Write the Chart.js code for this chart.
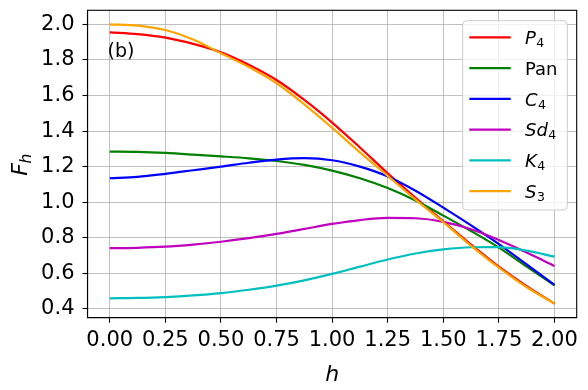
<!DOCTYPE html>
<html><head><meta charset="utf-8">
<script src="https://cdn.jsdelivr.net/npm/chart.js@4/dist/chart.umd.min.js"></script>
<style>html,body{margin:0;padding:0;background:#fff;overflow:hidden}#wrap{width:588px;height:390px;position:relative}</style>
</head><body><div id="wrap"><canvas id="c" width="588" height="390"></canvas></div>
<script>
// ---- data ----
const hValues = [0, 0.125, 0.25, 0.375, 0.5, 0.625, 0.75, 0.875, 1, 1.125, 1.25, 1.375, 1.5, 1.625, 1.75, 1.875, 2];
const P4  = [1.955, 1.945, 1.925, 1.89, 1.843, 1.773, 1.687, 1.575, 1.448, 1.308, 1.163, 1.025, 0.893, 0.762, 0.638, 0.528, 0.43];
const Pan = [1.285, 1.283, 1.277, 1.268, 1.258, 1.247, 1.232, 1.21, 1.178, 1.135, 1.08, 1.01, 0.925, 0.838, 0.745, 0.638, 0.533];
const C4  = [1.135, 1.143, 1.16, 1.18, 1.2, 1.222, 1.24, 1.248, 1.236, 1.2, 1.145, 1.065, 0.97, 0.87, 0.765, 0.65, 0.535];
const Sd4 = [0.742, 0.744, 0.75, 0.762, 0.778, 0.798, 0.822, 0.85, 0.878, 0.9, 0.912, 0.91, 0.89, 0.848, 0.788, 0.717, 0.642];
const K4  = [0.46, 0.462, 0.467, 0.476, 0.489, 0.508, 0.531, 0.561, 0.597, 0.638, 0.678, 0.712, 0.735, 0.747, 0.748, 0.728, 0.694];
const S3  = [2.0, 1.993, 1.968, 1.915, 1.837, 1.76, 1.669, 1.55, 1.418, 1.28, 1.148, 1.015, 0.888, 0.755, 0.632, 0.522, 0.43];

const seriesNames = ['P₄', 'Pan', 'C₄', 'Sd₄', 'K₄', 'S₃'];
const legendMain = ['P', 'Pan', 'C', 'Sd', 'K', 'S'];
const legendSub  = ['4', '', '4', '4', '4', '3'];
const legendItalic = [true, false, true, true, true, true];

const xTicks = [0, 0.25, 0.5, 0.75, 1, 1.25, 1.5, 1.75, 2];
const xTickLabels = ['0.00', '0.25', '0.50', '0.75', '1.00', '1.25', '1.50', '1.75', '2.00'];
const yTicks = [0.4, 0.6, 0.8, 1.0, 1.2, 1.4, 1.6, 1.8, 2.0];
const yTickLabels = ['0.4', '0.6', '0.8', '1.0', '1.2', '1.4', '1.6', '1.8', '2.0'];

const panelLabel = '(b)';
const xTitle = 'h';
const yTitleMain = 'F';
const yTitleSub = 'h';

// ---- styling ----
const colors = ['#ff0000', '#008000', '#0000ff', '#bf00bf', '#00bfbf', '#ffa500'];
const allSeries = [P4, Pan, C4, Sd4, K4, S3];
const FONT = "'DejaVu Sans', 'Liberation Sans', sans-serif";

const datasets = allSeries.map((arr, i) => ({
  label: seriesNames[i],
  data: hValues.map((h, j) => ({x: h, y: arr[j]})),
  borderColor: colors[i],
  backgroundColor: colors[i],
  borderWidth: 2.2,
  pointRadius: 0,
  cubicInterpolationMode: 'monotone',
  fill: false,
  order: allSeries.length - i
}));

const overlay = {
  id: 'overlay',
  afterDatasetsDraw(chart) {
    const ctx = chart.ctx;
    const a = chart.chartArea;
    ctx.save();
    // frame
    ctx.strokeStyle = '#000';
    ctx.lineWidth = 1.1;
    ctx.strokeRect(a.left, a.top, a.right - a.left, a.bottom - a.top);

    // panel label
    ctx.fillStyle = '#000';
    ctx.font = '19px ' + FONT;
    ctx.textBaseline = 'alphabetic';
    ctx.textAlign = 'left';
    ctx.fillText(panelLabel, 107.5, 56.5);

    // legend box
    const bx = 462.7, by = 20.7, bw = 104.6, bh = 189.3, r = 4;
    ctx.beginPath();
    ctx.moveTo(bx + r, by);
    ctx.lineTo(bx + bw - r, by);
    ctx.arcTo(bx + bw, by, bx + bw, by + r, r);
    ctx.lineTo(bx + bw, by + bh - r);
    ctx.arcTo(bx + bw, by + bh, bx + bw - r, by + bh, r);
    ctx.lineTo(bx + r, by + bh);
    ctx.arcTo(bx, by + bh, bx, by + bh - r, r);
    ctx.lineTo(bx, by + r);
    ctx.arcTo(bx, by, bx + r, by, r);
    ctx.closePath();
    ctx.fillStyle = 'rgba(255,255,255,0.8)';
    ctx.fill();
    ctx.strokeStyle = '#cccccc';
    ctx.lineWidth = 1;
    ctx.stroke();

    for (let i = 0; i < legendMain.length; i++) {
      const y = 37.3 + i * 30.75;
      ctx.beginPath();
      ctx.strokeStyle = colors[i];
      ctx.lineWidth = 2.2;
      ctx.moveTo(469.3, y);
      ctx.lineTo(510.7, y);
      ctx.stroke();
      ctx.fillStyle = '#000';
      ctx.font = (legendItalic[i] ? 'italic ' : '') + '18px ' + FONT;
      ctx.textAlign = 'left';
      ctx.textBaseline = 'alphabetic';
      const tx = 525, ty = y + 6.7;
      ctx.fillText(legendMain[i], tx, ty);
      if (legendSub[i]) {
        const w = ctx.measureText(legendMain[i]).width;
        ctx.font = '12.5px ' + FONT;
        ctx.fillText(legendSub[i], tx + w + 0.5, ty + 3);
      }
    }

    // y title F_h
    ctx.save();
    ctx.translate(26.7, 175.7);
    ctx.rotate(-Math.PI / 2);
    ctx.fillStyle = '#000';
    ctx.textAlign = 'left';
    ctx.textBaseline = 'alphabetic';
    ctx.font = 'italic 22px ' + FONT;
    ctx.fillText(yTitleMain, 0, 0);
    const fw = ctx.measureText(yTitleMain).width;
    ctx.font = 'italic 15.5px ' + FONT;
    ctx.fillText(yTitleSub, fw - 0.5, 4.5);
    ctx.restore();

    ctx.restore();
  }
};

new Chart(document.getElementById('c'), {
  type: 'line',
  data: {datasets},
  options: {
    responsive: false,
    devicePixelRatio: 1,
    animation: false,
    layout: {padding: {top: 10.3, right: 11.3, left: 0, bottom: 0}},
    plugins: {legend: {display: false}, tooltip: {enabled: false}},
    scales: {
      x: {
        type: 'linear',
        min: -0.1, max: 2.1,
        afterBuildTicks: s => { s.ticks = xTicks.map(v => ({value: v})); },
        afterFit: s => { s.height = 72.3; s.paddingLeft = 0; s.paddingRight = 0; },
        ticks: {
          autoSkip: false, maxRotation: 0, padding: 5,
          color: '#000', font: {family: FONT, size: 21},
          callback: (v) => { const k = xTicks.indexOf(v); return k >= 0 ? xTickLabels[k] : ''; }
        },
        grid: {color: '#b0b0b0', lineWidth: 0.8, tickColor: '#000', tickLength: 5, tickWidth: 1.1},
        border: {display: true, color: '#000', width: 1.1},
        title: {display: true, text: xTitle, color: '#000', font: {family: FONT, size: 22, style: 'italic'}, padding: {top: 0, bottom: 1.5}}
      },
      y: {
        type: 'linear',
        min: 0.351, max: 2.079,
        afterBuildTicks: s => { s.ticks = yTicks.map(v => ({value: v})); },
        afterFit: s => { s.width = 87.5; s.paddingTop = 0; s.paddingBottom = 0; },
        ticks: {
          autoSkip: false, padding: 8,
          color: '#000', font: {family: FONT, size: 21},
          callback: (v) => { const k = yTicks.findIndex(t => Math.abs(t - v) < 1e-9); return k >= 0 ? yTickLabels[k] : ''; }
        },
        grid: {color: '#b0b0b0', lineWidth: 0.8, tickColor: '#000', tickLength: 5, tickWidth: 1.1},
        border: {display: true, color: '#000', width: 1.1}
      }
    }
  },
  plugins: [overlay]
});
</script>
</body></html>
